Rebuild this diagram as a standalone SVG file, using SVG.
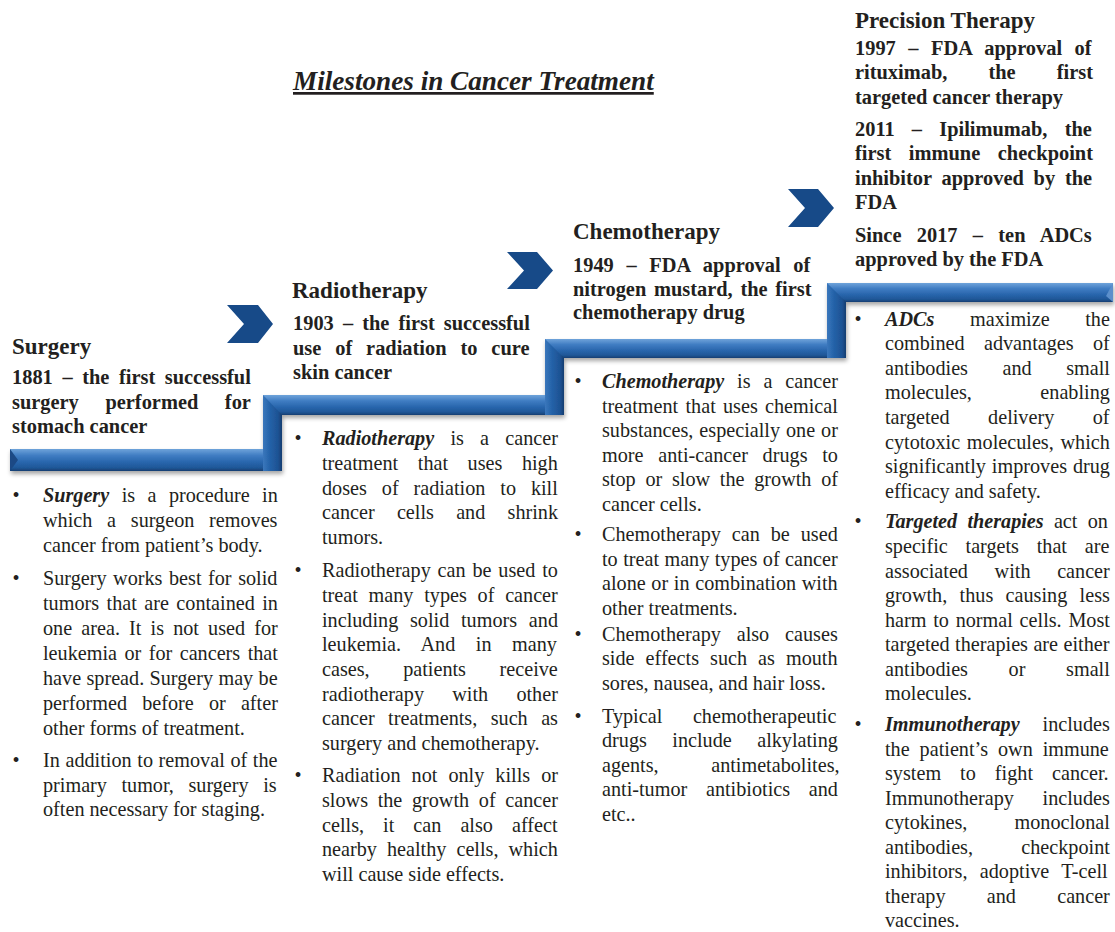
<svg xmlns="http://www.w3.org/2000/svg" width="1115" height="932" viewBox="0 0 1115 932">
<defs>
<linearGradient id="gH" x1="0" y1="0" x2="0" y2="1">
<stop offset="0" stop-color="#6fa3da"/>
<stop offset="0.3" stop-color="#3f7cc2"/>
<stop offset="0.6" stop-color="#2966ad"/>
<stop offset="0.85" stop-color="#1f5798"/>
<stop offset="1" stop-color="#163f72"/>
</linearGradient>
<linearGradient id="gV" x1="0" y1="0" x2="1" y2="0">
<stop offset="0" stop-color="#3b77bc"/>
<stop offset="0.35" stop-color="#2563a9"/>
<stop offset="0.8" stop-color="#1d5293"/>
<stop offset="1" stop-color="#153d70"/>
</linearGradient>
<filter id="sh" x="-5%" y="-20%" width="110%" height="140%">
<feDropShadow dx="1" dy="3" stdDeviation="2.2" flood-color="#000" flood-opacity="0.35"/>
</filter>
<style>
.b{font-family:"Liberation Serif","Times New Roman",serif;font-size:20.2px;fill:#231f20}
.h{font-family:"Liberation Serif","Times New Roman",serif;font-size:20.4px;font-weight:bold;fill:#231f20}
.t{font-family:"Liberation Serif","Times New Roman",serif;font-size:23px;font-weight:bold;fill:#231f20}
.bi{font-weight:bold;font-style:italic}
.dot{font-family:"Liberation Serif","Times New Roman",serif;font-size:20.2px;fill:#231f20;text-anchor:middle}
.chev{fill:#174a88}
</style>
</defs>
<rect width="1115" height="932" fill="#ffffff"/>

<g id="title">
<text x="293" y="90" font-family="Liberation Serif, Times New Roman, serif" font-size="27.2" font-weight="bold" font-style="italic" fill="#231f20" text-decoration="underline">Milestones in Cancer Treatment</text>
</g>

<g id="staircase" filter="url(#sh)">
<rect x="10" y="449" width="272" height="22" fill="url(#gH)"/>
<polygon points="10,449 18,460 10,471" fill="#1a4a85"/>
<rect x="263" y="395" width="19" height="76" fill="url(#gV)"/>
<polygon points="263,395 564,395 564,415 282,415" fill="url(#gH)"/>
<rect x="545" y="339" width="19" height="76" fill="url(#gV)"/>
<polygon points="545,339 846,339 846,358 564,358" fill="url(#gH)"/>
<rect x="827" y="283" width="19" height="75" fill="url(#gV)"/>
<polygon points="827,283 1113,283 1113,302 846,302" fill="url(#gH)"/>
<polygon points="1113,283 1113,302 1106,296" fill="#5b8fcb"/>
</g>

<g id="connectors">
<polygon class="chev" points="227,305 258,305 273,324 258,343 227,343 244,324"/>
<polygon class="chev" points="507,252 537,252 553,270.5 537,289 507,289 524,270.5"/>
<polygon class="chev" points="788,189 818,189 834,208 818,227 788,227 805,208"/>
</g>

<g id="surgery">
<text class="t" x="12" y="354">Surgery</text>
<text class="h" x="12" y="384" word-spacing="4.5">1881 – the first successful</text>
<text class="h" x="12" y="409" word-spacing="21.5">surgery performed for</text>
<text class="h" x="12" y="433">stomach cancer</text>
<text class="dot" x="16" y="502">•</text>
<text class="b" x="43" y="502" word-spacing="7.4"><tspan class="bi">Surgery</tspan> is a procedure in</text>
<text class="b" x="43" y="527" word-spacing="9.7">which a surgeon removes</text>
<text class="b" x="43" y="552">cancer from patient’s body.</text>
<text class="dot" x="16" y="585">•</text>
<text class="b" x="43" y="585" word-spacing="1.5">Surgery works best for solid</text>
<text class="b" x="43" y="610" word-spacing="2.4">tumors that are contained in</text>
<text class="b" x="43" y="635" word-spacing="4.1">one area. It is not used for</text>
<text class="b" x="43" y="660" word-spacing="2.4">leukemia or for cancers that</text>
<text class="b" x="43" y="685" word-spacing="0.3">have spread. Surgery may be</text>
<text class="b" x="43" y="710" word-spacing="10.1">performed before or after</text>
<text class="b" x="43" y="735">other forms of treatment.</text>
<text class="dot" x="16" y="767">•</text>
<text class="b" x="43" y="767" word-spacing="0.6">In addition to removal of the</text>
<text class="b" x="43" y="792" word-spacing="9.5">primary tumor, surgery is</text>
<text class="b" x="43" y="816">often necessary for staging.</text>
</g>

<g id="radiotherapy">
<text class="t" x="292" y="298">Radiotherapy</text>
<text class="h" x="293" y="330" word-spacing="4.0">1903 – the first successful</text>
<text class="h" x="293" y="355" word-spacing="8.8">use of radiation to cure</text>
<text class="h" x="293" y="379">skin cancer</text>
<text class="dot" x="298" y="445">•</text>
<text class="b" x="322" y="445" word-spacing="11.2"><tspan class="bi">Radiotherapy</tspan> is a cancer</text>
<text class="b" x="322" y="470" word-spacing="14.5">treatment that uses high</text>
<text class="b" x="322" y="495" word-spacing="9.9">doses of radiation to kill</text>
<text class="b" x="322" y="519" word-spacing="17.2">cancer cells and shrink</text>
<text class="b" x="322" y="544">tumors.</text>
<text class="dot" x="298" y="577">•</text>
<text class="b" x="322" y="577" word-spacing="1.8">Radiotherapy can be used to</text>
<text class="b" x="322" y="602" word-spacing="5.7">treat many types of cancer</text>
<text class="b" x="322" y="627" word-spacing="6.7">including solid tumors and</text>
<text class="b" x="322" y="651" word-spacing="15.5">leukemia. And in many</text>
<text class="b" x="322" y="676" word-spacing="28.5">cases, patients receive</text>
<text class="b" x="322" y="701" word-spacing="23.2">radiotherapy with other</text>
<text class="b" x="322" y="725" word-spacing="8.4">cancer treatments, such as</text>
<text class="b" x="322" y="750">surgery and chemotherapy.</text>
<text class="dot" x="298" y="782">•</text>
<text class="b" x="322" y="782" word-spacing="6.0">Radiation not only kills or</text>
<text class="b" x="322" y="807" word-spacing="4.6">slows the growth of cancer</text>
<text class="b" x="322" y="832" word-spacing="14.0">cells, it can also affect</text>
<text class="b" x="322" y="856" word-spacing="5.0">nearby healthy cells, which</text>
<text class="b" x="322" y="881">will cause side effects.</text>
</g>

<g id="chemotherapy">
<text class="t" x="573" y="239">Chemotherapy</text>
<text class="h" x="573" y="272" word-spacing="7.6">1949 – FDA approval of</text>
<text class="h" x="573" y="296" word-spacing="2.6">nitrogen mustard, the first</text>
<text class="h" x="573" y="319">chemotherapy drug</text>
<text class="dot" x="578" y="388">•</text>
<text class="b" x="602" y="388" word-spacing="7.8"><tspan class="bi">Chemotherapy</tspan> is a cancer</text>
<text class="b" x="602" y="413" word-spacing="2.2">treatment that uses chemical</text>
<text class="b" x="602" y="437" word-spacing="0.9">substances, especially one or</text>
<text class="b" x="602" y="462" word-spacing="9.7">more anti-cancer drugs to</text>
<text class="b" x="602" y="486" word-spacing="4.7">stop or slow the growth of</text>
<text class="b" x="602" y="511">cancer cells.</text>
<text class="dot" x="578" y="541">•</text>
<text class="b" x="602" y="541" word-spacing="5.9">Chemotherapy can be used</text>
<text class="b" x="602" y="566" word-spacing="0.4">to treat many types of cancer</text>
<text class="b" x="602" y="590" word-spacing="0.6">alone or in combination with</text>
<text class="b" x="602" y="615">other treatments.</text>
<text class="dot" x="578" y="641">•</text>
<text class="b" x="602" y="641" word-spacing="10.8">Chemotherapy also causes</text>
<text class="b" x="602" y="665" word-spacing="6.0">side effects such as mouth</text>
<text class="b" x="602" y="690">sores, nausea, and hair loss.</text>
<text class="dot" x="578" y="723">•</text>
<text class="b" x="602" y="723" word-spacing="25.6">Typical chemotherapeutic</text>
<text class="b" x="602" y="747" word-spacing="20.4">drugs include alkylating</text>
<text class="b" x="602" y="772" word-spacing="47.5">agents, antimetabolites,</text>
<text class="b" x="602" y="796" word-spacing="13.7">anti-tumor antibiotics and</text>
<text class="b" x="602" y="821">etc..</text>
</g>

<g id="precision">
<text class="t" x="855" y="28" font-size="24.5">Precision Therapy</text>
<text class="h" x="855" y="55" word-spacing="7.4">1997 – FDA approval of</text>
<text class="h" x="855" y="79" word-spacing="36">rituximab, the first</text>
<text class="h" x="855" y="104">targeted cancer therapy</text>
<text class="h" x="855" y="136" word-spacing="12.1">2011 – Ipilimumab, the</text>
<text class="h" x="855" y="160" word-spacing="12.5">first immune checkpoint</text>
<text class="h" x="855" y="185" word-spacing="4.7">inhibitor approved by the</text>
<text class="h" x="855" y="209">FDA</text>
<text class="h" x="855" y="242" word-spacing="10.2">Since 2017 – ten ADCs</text>
<text class="h" x="855" y="266">approved by the FDA</text>
<text class="dot" x="858" y="326">•</text>
<text class="b" x="885" y="326" word-spacing="30.6"><tspan class="bi">ADCs</tspan> maximize the</text>
<text class="b" x="885" y="350" word-spacing="14.3">combined advantages of</text>
<text class="b" x="885" y="375" word-spacing="29.5">antibodies and small</text>
<text class="b" x="885" y="399" word-spacing="63.4">molecules, enabling</text>
<text class="b" x="885" y="424" word-spacing="33.4">targeted delivery of</text>
<text class="b" x="885" y="449" word-spacing="1.7">cytotoxic molecules, which</text>
<text class="b" x="885" y="473" word-spacing="0.9">significantly improves drug</text>
<text class="b" x="885" y="498">efficacy and safety.</text>
<text class="dot" x="858" y="528">•</text>
<text class="b" x="885" y="528" word-spacing="5.2"><tspan class="bi">Targeted therapies</tspan> act on</text>
<text class="b" x="885" y="553" word-spacing="12.7">specific targets that are</text>
<text class="b" x="885" y="578" word-spacing="21.6">associated with cancer</text>
<text class="b" x="885" y="602" word-spacing="7.3">growth, thus causing less</text>
<text class="b" x="885" y="627" word-spacing="1.7">harm to normal cells. Most</text>
<text class="b" x="885" y="651" word-spacing="0.4">targeted therapies are either</text>
<text class="b" x="885" y="676" word-spacing="35.6">antibodies or small</text>
<text class="b" x="885" y="700">molecules.</text>
<text class="dot" x="858" y="731">•</text>
<text class="b" x="885" y="731" word-spacing="17.9"><tspan class="bi">Immunotherapy</tspan> includes</text>
<text class="b" x="885" y="756" word-spacing="4.9">the patient’s own immune</text>
<text class="b" x="885" y="780" word-spacing="14.0">system to fight cancer.</text>
<text class="b" x="885" y="805" word-spacing="23.6">Immunotherapy includes</text>
<text class="b" x="885" y="829" word-spacing="42.1">cytokines, monoclonal</text>
<text class="b" x="885" y="854" word-spacing="43.2">antibodies, checkpoint</text>
<text class="b" x="885" y="878" word-spacing="7.3">inhibitors, adoptive T-cell</text>
<text class="b" x="885" y="903" word-spacing="36.2">therapy and cancer</text>
<text class="b" x="885" y="927">vaccines.</text>
</g>
</svg>
